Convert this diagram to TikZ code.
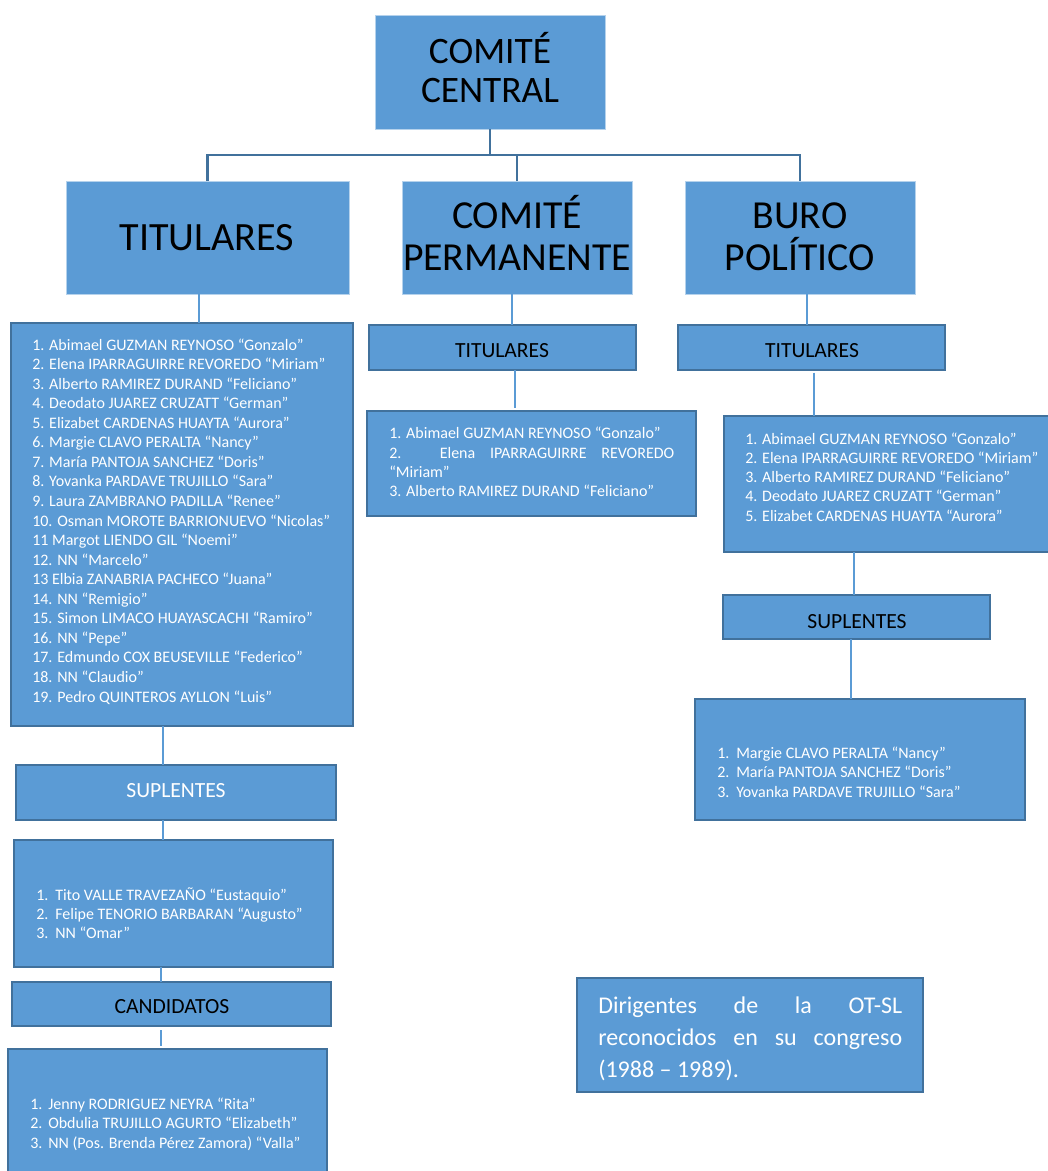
\documentclass[tikz,border=0pt]{standalone}
\usepackage{fontspec}
\setmainfont{Carlito}
\usetikzlibrary{calc}
\definecolor{fillc}{HTML}{5B9BD5}
\definecolor{bordc}{HTML}{41719C}
\definecolor{connc}{HTML}{5B9BD5}
\tikzset{
 topbox/.style={draw=white!55!fillc, line width=0.75pt, fill=fillc, inner sep=0pt, outer sep=0pt},
 box/.style={draw=bordc, line width=2pt, fill=fillc, inner sep=0pt, outer sep=0pt},
 bigt/.style={font=\fontsize{29.8}{31}\selectfont, text=black, inner sep=0pt, anchor=base},
 midt/.style={font=\fontsize{16.2}{18}\selectfont, text=black, inner sep=0pt, anchor=base},
 lst/.style={font=\fontsize{12}{14}\selectfont, text=white, inner sep=0pt, anchor=base west},
 captxt/.style={font=\fontsize{18}{20}\selectfont, text=white, inner sep=0pt, anchor=base west},
 trunk/.style={draw=bordc, line width=2pt},
 conn/.style={draw=connc, line width=0.9pt},
}
\begin{document}
\begin{tikzpicture}[x=0.75pt,y=-0.75pt]
\fill[white] (0,0) rectangle (1048,1171);
\useasboundingbox (0,0) rectangle (1048,1171);

% top level boxes
\node[topbox, minimum width=230*0.75pt, minimum height=114*0.75pt] (cc) at (490,72) {};
\node[topbox, minimum width=283*0.75pt, minimum height=113*0.75pt] (tit) at (207.5,237.5) {};
\node[topbox, minimum width=230*0.75pt, minimum height=113*0.75pt] (perm) at (517,237.5) {};
\node[topbox, minimum width=230*0.75pt, minimum height=113*0.75pt] (buro) at (800,237.5) {};

\node[bigt, font=\fontsize{28}{30}\selectfont] (cc1) at (490,63) {COMITÉ};
\node[bigt, font=\fontsize{28}{30}\selectfont] (cc2) at (490,102) {CENTRAL};
\node[bigt, font=\fontsize{30.1}{32}\selectfont] (tit1) at (207,250) {TITULARES};
\node[bigt] (perm1) at (517,228) {COMITÉ};
\node[bigt] (perm2) at (517,270) {PERMANENTE};
\node[bigt] (buro1) at (800,228) {BURO};
\node[bigt] (buro2) at (800,270) {POLÍTICO};

% trunk connectors
\coordinate (hub) at (490,155);
\draw[trunk] (cc.south) -- (hub);
\draw[trunk] (tit.north) |- (hub);
\draw[trunk] (perm.north) |- (hub);
\draw[trunk] (buro.north) |- (hub);

% second level boxes
\node[box, minimum width=342*0.75pt, minimum height=403*0.75pt] (titlist) at (182,524.5) {};
\node[box, minimum width=320*0.75pt, minimum height=55*0.75pt] (supL) at (176,792.5) {};
\node[box, minimum width=319*0.75pt, minimum height=127*0.75pt] (supLlist) at (173.5,903.5) {};
\node[box, minimum width=319*0.75pt, minimum height=44*0.75pt] (cand) at (171.5,1004) {};
\node[box, minimum width=319*0.75pt, minimum height=131*0.75pt] (candlist) at (167.5,1114.5) {};
\node[box, minimum width=267*0.75pt, minimum height=45*0.75pt] (titM) at (502.5,347.5) {};
\node[box, minimum width=329*0.75pt, minimum height=105*0.75pt] (listM) at (531.5,463.5) {};
\node[box, minimum width=267*0.75pt, minimum height=45*0.75pt] (titR) at (811.5,347.5) {};
\node[box, minimum width=328*0.75pt, minimum height=136*0.75pt] (listR) at (888,484) {};
\node[box, minimum width=267*0.75pt, minimum height=44*0.75pt] (supR) at (856.5,617) {};
\node[box, minimum width=330*0.75pt, minimum height=121*0.75pt] (supRlist) at (860,759.5) {};
\node[box, minimum width=346*0.75pt, minimum height=114*0.75pt] (capbox) at (750,1035) {};

% small titles
\node[midt] (titMt) at (502,357) {TITULARES};
\node[midt] (titRt) at (812,357) {TITULARES};
\node[midt] (supRt) at (857,628) {SUPLENTES};
\node[midt, text=white] (supLt) at (176,797) {SUPLENTES};
\node[midt] (candt) at (172,1013) {CANDIDATOS};

% thin connectors
\draw[conn] ($(tit.south)+(-8.5,0)$) coordinate (k1) -- (k1 |- titlist.north);
\draw[conn] ($(titlist.south)+(-19,0)$) coordinate (k2) -- (k2 |- supL.north);
\draw[conn] ($(supL.south)+(-13,0)$) coordinate (k3) -- (k3 |- supLlist.north);
\draw[conn] ($(supLlist.south)+(-12.5,0)$) coordinate (k4) -- (k4 |- cand.north);
\draw[conn, shorten <=3pt, shorten >=2pt] ($(cand.south)+(-10.5,0)$) coordinate (k5) -- (k5 |- candlist.north);
\draw[conn] ($(perm.south)+(-5,0)$) coordinate (k6) -- (k6 |- titM.north);
\draw[conn, shorten >=2pt] ($(titM.south)+(12.5,0)$) coordinate (k7) -- (k7 |- listM.north);
\draw[conn] ($(buro.south)+(7,0)$) coordinate (k8) -- (k8 |- titR.north);
\draw[conn, shorten <=2pt] ($(titR.south)+(2.5,0)$) coordinate (k9) -- (k9 |- listR.north);
\draw[conn] ($(listR.south)+(-34,0)$) coordinate (k10) -- (k10 |- supR.north);
\draw[conn] ($(supR.south)+(-5.5,0)$) coordinate (k11) -- (k11 |- supRlist.north);

% left titulares list
\foreach \t [count=\i] in {
 1. Abimael GUZMAN REYNOSO “Gonzalo”,
 2. Elena IPARRAGUIRRE REVOREDO “Miriam”,
 3. Alberto RAMIREZ DURAND “Feliciano”,
 4. Deodato JUAREZ CRUZATT “German”,
 5. Elizabet CARDENAS HUAYTA “Aurora”,
 6. Margie CLAVO PERALTA “Nancy”,
 7. María PANTOJA SANCHEZ “Doris”,
 8. Yovanka PARDAVE TRUJILLO “Sara”,
 9. Laura ZAMBRANO PADILLA “Renee”,
 10. Osman MOROTE BARRIONUEVO “Nicolas”,
 11 Margot LIENDO GIL “Noemi”,
 12. NN “Marcelo”,
 13 Elbia ZANABRIA PACHECO “Juana”,
 14. NN “Remigio”,
 15. Simon LIMACO HUAYASCACHI “Ramiro”,
 16. NN “Pepe”,
 17. Edmundo COX BEUSEVILLE “Federico”,
 18. NN “Claudio”,
 19. Pedro QUINTEROS AYLLON “Luis”}
 \node[lst] (tl\i) at (32,{350+(\i-1)*19.56}) {\t};

% left suplentes list
\foreach \t [count=\i] in {
 Tito VALLE TRAVEZAÑO “Eustaquio”,
 Felipe TENORIO BARBARAN “Augusto”,
 NN “Omar”}
 \node[lst] (sl\i) at (36,{900+(\i-1)*19}) {\makebox[14.25pt][l]{\i.}\t};

% candidatos list
\foreach \t [count=\i] in {
 Jenny RODRIGUEZ NEYRA “Rita”,
 Obdulia TRUJILLO AGURTO “Elizabeth”,
 NN (Pos. Brenda Pérez Zamora) “Valla”}
 \node[lst] (cl\i) at (30,{1109+(\i-1)*19.5}) {\makebox[13.5pt][l]{\i.}\t};

% middle titulares list
\node[lst] (ml1) at (389,438) {1. Abimael GUZMAN REYNOSO “Gonzalo”};
\node[lst] (ml2) at (389,458) {\makebox[213.75pt][s]{2. Elena IPARRAGUIRRE REVOREDO}};
\node[lst] (ml3) at (389,477) {“Miriam”};
\node[lst] (ml4) at (389,496) {3. Alberto RAMIREZ DURAND “Feliciano”};

% right titulares list
\foreach \t [count=\i] in {
 1. Abimael GUZMAN REYNOSO “Gonzalo”,
 2. Elena IPARRAGUIRRE REVOREDO “Miriam”,
 3. Alberto RAMIREZ DURAND “Feliciano”,
 4. Deodato JUAREZ CRUZATT “German”,
 5. Elizabet CARDENAS HUAYTA “Aurora”}
 \node[lst] (rl\i) at (745,{444+(\i-1)*19.25}) {\t};

% right suplentes list
\foreach \t [count=\i] in {
 Margie CLAVO PERALTA “Nancy”,
 María PANTOJA SANCHEZ “Doris”,
 Yovanka PARDAVE TRUJILLO “Sara”}
 \node[lst] (rs\i) at (717,{758+(\i-1)*19.5}) {\makebox[14.25pt][l]{\i.}\t};

% caption
\node[captxt] (cap1) at (598,1013) {\makebox[228pt][s]{Dirigentes de la OT-SL}};
\node[captxt] (cap2) at (598,1045) {\makebox[228pt][s]{reconocidos en su congreso}};
\node[captxt] (cap3) at (598,1077) {(1988 – 1989).};
\end{tikzpicture}
\end{document}
